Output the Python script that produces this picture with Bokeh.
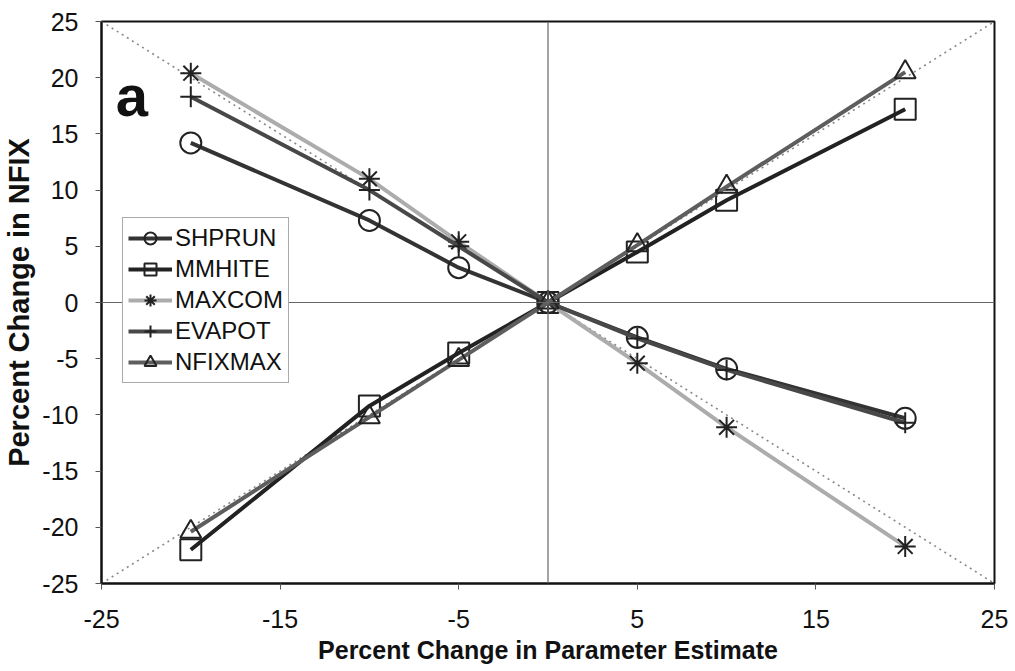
from bokeh.plotting import figure
from bokeh.models import FixedTicker, Legend, LegendItem, Label, Span
from bokeh.embed import file_html
from bokeh.resources import INLINE

pct_change = [-20, -10, -5, 0, 5, 10, 20]
shprun = [14.2, 7.3, 3.1, 0.0, -3.1, -5.9, -10.3]
mmhite = [-22.0, -9.2, -4.5, 0.0, 4.5, 9.1, 17.2]
maxcom = [20.4, 11.0, 5.4, 0.0, -5.4, -11.1, -21.7]
evapot = [18.3, 10.0, 5.0, 0.0, -3.2, -6.0, -10.7]
nfixmax = [-20.4, -10.2, -5.1, 0.0, 5.1, 10.3, 20.5]
x_ticks = [-25, -15, -5, 5, 15, 25]
y_ticks = [-25, -20, -15, -10, -5, 0, 5, 10, 15, 20, 25]
ref_x = [-25, 25]
ref_up = [-25, 25]
ref_down = [25, -25]

FONT = "Liberation Sans"

p = figure(width=1010, height=670, output_backend="svg", toolbar_location=None,
           x_range=(-25, 25), y_range=(-25, 25),
           min_border_left=101, min_border_right=16, min_border_top=21, min_border_bottom=87)
p.grid.visible = False
p.outline_line_color = "#111111"
p.outline_line_width = 2
p.background_fill_color = "white"

for ax in (p.xaxis[0], p.yaxis[0]):
    ax.axis_line_color = "#111111"
    ax.axis_line_width = 2
    ax.major_tick_line_color = "#555555"
    ax.major_tick_in = 0
    ax.major_tick_out = 6
    ax.minor_tick_line_color = None
    ax.major_label_text_font = FONT
    ax.major_label_text_font_size = "25px"
    ax.major_label_text_color = "#111111"
    ax.axis_label_text_font = FONT
    ax.axis_label_text_font_style = "bold"
    ax.axis_label_text_color = "#111111"

p.xaxis.axis_label_text_font_size = "25px"
p.yaxis.axis_label_text_font_size = "29px"
p.xaxis.ticker = FixedTicker(ticks=x_ticks)
p.yaxis.ticker = FixedTicker(ticks=y_ticks)
p.xaxis.major_label_overrides = {t: str(t) for t in x_ticks}
p.yaxis.major_label_overrides = {t: str(t) for t in y_ticks}
p.xaxis.axis_label = "Percent Change in Parameter Estimate"
p.yaxis.axis_label = "Percent Change in NFIX"
p.xaxis.major_label_standoff = 20
p.xaxis.axis_label_standoff = 5
p.yaxis.major_label_standoff = 17
p.yaxis.axis_label_standoff = 4

p.add_layout(Span(location=0, dimension="width", line_color="#666666", line_width=1.2))
p.add_layout(Span(location=0, dimension="height", line_color="#666666", line_width=1.2))

p.line(ref_x, ref_up, line_color="#888888", line_width=1.6, line_dash="2 4")
p.line(ref_x, ref_down, line_color="#888888", line_width=1.6, line_dash="2 4")

series = [
    ("SHPRUN", shprun, "#333333", "circle"),
    ("MMHITE", mmhite, "#222222", "square"),
    ("MAXCOM", maxcom, "#acacac", "asterisk"),
    ("EVAPOT", evapot, "#484848", "cross"),
    ("NFIXMAX", nfixmax, "#5e5e5e", "triangle"),
]

items = []
for name, ys, col, mk in series:
    ln = p.line(pct_change, ys, line_color=col, line_width=4)
    sc = p.scatter(pct_change, ys, marker=mk, size=21, fill_color=None,
                   line_color="#222222", line_width=2)
    items.append(LegendItem(label=name, renderers=[ln, sc]))

legend = Legend(items=items, location=(21, 200), label_text_font=FONT,
                label_text_font_size="24px", label_text_color="#111111",
                glyph_width=44, glyph_height=30, label_height=30, spacing=1,
                padding=5, margin=0, label_standoff=3,
                border_line_color="#555555", border_line_width=1.2,
                background_fill_color="white", background_fill_alpha=1)
p.add_layout(legend, "center")

p.add_layout(Label(x=-24.2, y=18.4, text="a", text_font=FONT, text_font_size="58px",
                   text_font_style="bold", text_color="#111111", text_baseline="alphabetic"))

open("out.html", "w").write(file_html(p, INLINE))
